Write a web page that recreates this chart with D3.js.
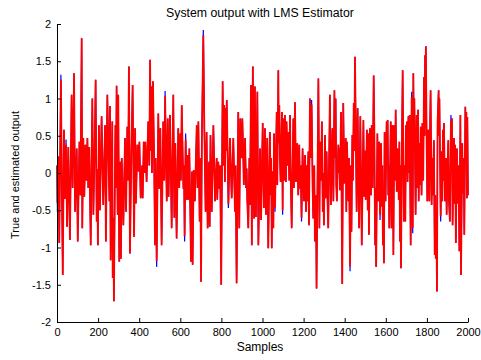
<!DOCTYPE html>
<html>
<head>
<meta charset="utf-8">
<script src="https://cdnjs.cloudflare.com/ajax/libs/d3/7.8.5/d3.min.js"></script>
<style>
  body { margin: 0; background: #fff; }
  text { font-family: "Liberation Sans", Arial, sans-serif; fill: #000; }
</style>
</head>
<body>
<svg id="chart" width="481" height="360"></svg>
<script>
// sample index of each read-off point
const samples = [
  0,2,7,11,19,24,28,34,39,44,
  49,55,63,71,76,83,88,96,101,109,
  114,120,123,128,133,138,143,148,152,157,
  164,172,177,183,188,193,196,199,204,209,
  217,225,234,238,245,255,258,261,269,271,
  274,277,284,287,290,295,298,303,307,311,
  315,323,331,336,342,346,350,355,362,368,
  375,380,384,391,396,401,407,414,417,422,
  427,430,436,444,449,453,456,459,462,467,
  472,477,480,485,493,498,503,509,517,522,
  526,534,539,543,550,558,566,571,576,582,
  590,595,600,603,607,615,618,621,626,631,
  635,639,644,652,657,660,665,671,680,684,
  688,694,697,701,705,712,717,723,728,733,
  740,743,747,753,761,769,777,780,785,790,
  794,799,806,811,814,817,821,824,826,834,
  842,850,858,866,869,874,882,887,892,898,
  902,905,909,915,920,923,926,931,936,939,
  944,948,953,959,963,968,975,980,988,993,
  1001,1007,1012,1017,1023,1028,1036,1039,1042,1045,
  1049,1053,1056,1061,1069,1072,1077,1079,1082,1085,
  1088,1095,1098,1101,1106,1109,1114,1117,1122,1126,
  1130,1134,1137,1142,1150,1153,1158,1163,1169,1174,
  1179,1182,1186,1190,1195,1202,1207,1212,1215,1218,
  1223,1226,1231,1234,1239,1244,1247,1252,1255,1260,
  1263,1272,1277,1280,1285,1289,1293,1296,1299,1304,
  1307,1312,1315,1320,1328,1333,1340,1345,1350,1353,
  1356,1359,1362,1369,1372,1375,1377,1382,1388,1393,
  1398,1405,1408,1411,1418,1421,1426,1430,1433,1437,
  1440,1444,1447,1450,1453,1458,1463,1466,1470,1476,
  1483,1491,1495,1499,1502,1508,1512,1515,1518,1523,
  1528,1531,1536,1541,1544,1548,1550,1553,1559,1564,
  1568,1572,1577,1580,1583,1586,1588,1591,1594,1599,
  1604,1607,1609,1612,1614,1617,1624,1628,1633,1637,
  1641,1645,1648,1653,1658,1663,1666,1669,1671,1674,
  1679,1682,1688,1692,1695,1698,1700,1703,1706,1710,
  1713,1716,1721,1726,1731,1734,1737,1739,1745,1750,
  1753,1757,1760,1764,1767,1770,1774,1778,1782,1786,
  1789,1791,1793,1795,1799,1802,1807,1812,1815,1818,
  1823,1826,1829,1834,1838,1841,1843,1846,1849,1852,
  1857,1859,1861,1867,1872,1875,1878,1880,1883,1888,
  1893,1896,1901,1904,1907,1912,1917,1920,1922,1925,
  1932,1935,1937,1941,1946,1951,1954,1958,1963,1966,
  1972,1975,1979,1982,1987,1990,1992,1995,1997,2000
];

// true system output (blue)
const trueOut = [
  0.10,-0.52,0.22,-0.94,1.32,-0.30,-1.37,0.58,-0.35,0.45,
  -0.72,0.35,-0.90,1.05,-0.20,1.34,-0.52,0.33,-0.92,0.42,
  -0.30,1.81,-0.74,0.47,-0.32,0.38,-0.10,0.47,-0.20,0.35,
  -0.97,1.00,-0.56,0.30,1.25,-0.65,0.05,-0.97,0.64,-0.50,
  0.76,-0.43,0.64,-0.92,1.05,-0.38,0.90,-1.17,0.69,-1.41,
  -0.60,-1.72,0.64,-0.20,1.17,-0.56,1.05,-1.19,0.15,-1.15,
  0.20,-0.70,0.47,-0.52,0.62,-0.10,1.43,-1.08,0.30,1.18,
  -0.86,0.60,-0.41,0.38,0.02,0.42,-0.34,0.10,-0.34,0.42,
  0.00,0.42,-0.12,0.69,0.10,1.52,0.30,1.16,0.00,1.23,
  0.30,-0.97,0.20,-1.26,0.80,-0.21,0.60,-0.97,0.69,-0.10,
  1.10,-0.38,0.73,-0.32,0.78,-0.74,1.05,-0.60,0.40,-0.88,
  0.60,-0.20,0.53,-0.10,0.91,-0.21,0.10,-0.92,0.53,-0.36,
  0.24,-0.36,0.33,-1.19,0.02,-1.23,0.04,-0.38,0.64,-0.20,
  0.69,-0.65,0.20,-1.46,0.51,1.92,0.60,-0.52,0.55,-0.74,
  0.15,-0.72,0.51,-0.52,0.64,-0.38,0.20,-0.36,0.15,-0.21,
  0.10,-1.50,1.23,0.10,0.91,-0.12,0.87,0.30,0.98,-0.47,
  0.47,-0.34,0.47,-0.52,0.10,-1.48,0.82,-0.74,0.73,0.20,
  0.73,0.44,-0.16,0.47,-0.20,0.06,-0.38,-0.74,0.20,-0.43,
  1.18,-0.97,1.43,-0.61,1.16,-0.59,1.09,-0.97,0.33,-0.63,
  0.67,-0.47,0.60,-0.56,0.47,-1.01,0.55,-0.30,0.20,-1.01,
  0.02,-0.74,0.53,-0.52,0.82,-0.16,1.38,0.40,0.91,0.20,
  -0.12,0.82,-0.56,0.73,-0.10,0.78,-0.12,0.69,0.10,0.55,
  -0.10,0.78,0.00,-0.74,0.73,-0.20,0.95,-0.12,0.40,-0.30,
  0.38,-0.21,0.10,-0.65,0.33,-0.38,0.24,-0.52,0.10,-0.38,
  0.29,-0.70,1.00,0.20,0.98,-0.20,-0.61,0.10,-0.92,-0.30,
  -1.55,1.27,-0.74,0.42,-0.10,0.69,-0.52,0.00,-0.70,0.51,
  -0.34,0.29,-0.23,-0.74,1.05,-0.43,0.60,-0.38,1.11,0.20,
  1.00,-0.16,-0.38,0.38,0.00,0.33,-0.23,0.82,-1.49,0.94,
  -0.14,0.47,-0.52,0.42,-0.38,0.20,-1.32,0.10,-0.79,0.51,
  -0.10,0.94,0.30,1.56,0.85,-0.52,0.87,0.10,-0.74,0.76,
  -0.97,0.71,-0.32,0.30,-0.36,0.58,-0.50,0.53,-0.83,0.60,
  -0.30,0.64,-0.20,1.31,0.64,-0.97,-0.20,-1.26,0.53,-0.38,
  0.42,-0.63,0.40,-0.45,0.10,-0.97,-0.30,-1.21,0.55,-0.38,
  0.69,0.10,0.71,-0.30,0.10,-0.74,0.69,-0.74,0.64,-1.10,
  0.64,-0.10,0.85,-0.25,0.33,-0.36,0.42,-0.92,0.10,-1.28,
  0.60,1.38,-0.65,0.10,-0.65,0.64,0.20,0.69,-0.12,0.76,
  0.00,0.78,-0.97,1.09,-0.81,1.34,0.40,1.00,-0.56,0.78,
  -0.20,0.85,-0.38,0.40,-0.16,0.62,-0.30,0.67,-0.10,1.29,
  0.50,1.58,0.90,1.70,0.33,-0.38,0.58,-0.38,0.58,1.11,
  -0.43,0.20,-0.30,0.44,-1.10,-0.30,-1.15,-0.50,-1.59,0.67,
  1.11,0.50,1.00,-0.65,0.29,-0.38,0.58,-0.10,0.67,-0.38,
  0.20,-0.56,0.10,0.44,-0.36,-0.65,0.78,0.30,0.73,-0.70,
  0.47,-0.41,0.38,-0.94,0.33,-0.41,0.10,-1.05,0.78,-1.37,
  0.40,-0.27,0.20,-0.83,0.89,0.20,0.82,-0.34,0.75,-0.30
];

// LMS estimated output (red)
const estOut = [
  0.10,-0.40,0.22,-0.94,1.25,-0.30,-1.37,0.58,-0.35,0.38,
  -0.72,0.35,-0.90,1.05,-0.20,1.34,-0.52,0.33,-0.92,0.42,
  -0.30,1.81,-0.74,0.47,-0.32,0.38,-0.10,0.47,-0.20,0.35,
  -0.97,1.00,-0.56,0.30,1.25,-0.65,0.05,-0.97,0.64,-0.50,
  0.76,-0.43,0.64,-0.92,1.05,-0.38,0.90,-1.17,0.69,-1.41,
  -0.60,-1.72,0.64,-0.20,1.17,-0.56,1.05,-1.19,0.15,-1.15,
  0.20,-0.70,0.47,-0.52,0.62,-0.10,1.43,-1.08,0.30,1.18,
  -0.86,0.60,-0.41,0.38,0.02,0.42,-0.34,0.10,-0.34,0.42,
  0.00,0.42,-0.12,0.69,0.10,1.52,0.30,1.16,0.00,1.23,
  0.30,-0.97,0.20,-1.18,0.80,-0.21,0.60,-0.97,0.69,-0.10,
  1.03,-0.38,0.73,-0.32,0.78,-0.74,1.05,-0.60,0.40,-0.88,
  0.60,-0.20,0.53,-0.10,0.91,-0.21,0.10,-0.85,0.45,-0.36,
  0.24,-0.36,0.33,-1.19,0.02,-1.23,0.04,-0.38,0.64,-0.20,
  0.69,-0.65,0.20,-1.46,0.51,1.85,0.60,-0.52,0.55,-0.74,
  0.15,-0.72,0.51,-0.52,0.64,-0.38,0.20,-0.36,0.15,-0.21,
  0.10,-1.50,1.23,0.10,0.91,-0.12,0.87,0.30,0.98,-0.42,
  0.47,-0.34,0.47,-0.52,0.10,-1.48,0.82,-0.74,0.73,0.20,
  0.73,0.38,-0.16,0.47,-0.20,0.06,-0.38,-0.74,0.20,-0.43,
  1.18,-0.97,1.43,-0.61,1.16,-0.59,1.09,-0.97,0.33,-0.63,
  0.67,-0.47,0.60,-0.56,0.47,-1.01,0.55,-0.30,0.20,-1.01,
  0.02,-0.74,0.53,-0.46,0.82,-0.16,1.38,0.40,0.91,0.20,
  -0.12,0.82,-0.50,0.73,-0.10,0.78,-0.12,0.69,0.10,0.55,
  -0.10,0.78,0.00,-0.74,0.73,-0.20,0.95,-0.12,0.40,-0.30,
  0.38,-0.21,0.10,-0.60,0.33,-0.38,0.24,-0.52,0.10,-0.38,
  0.29,-0.70,1.00,0.20,0.92,-0.20,-0.61,0.10,-0.92,-0.30,
  -1.55,1.27,-0.74,0.42,-0.10,0.69,-0.52,0.00,-0.70,0.51,
  -0.34,0.29,-0.23,-0.74,1.05,-0.43,0.60,-0.38,1.11,0.20,
  1.00,-0.16,-0.38,0.38,0.00,0.33,-0.23,0.82,-1.49,0.94,
  -0.14,0.47,-0.52,0.42,-0.38,0.20,-1.25,0.10,-0.79,0.51,
  -0.10,0.94,0.30,1.56,0.85,-0.52,0.87,0.10,-0.74,0.76,
  -0.97,0.71,-0.32,0.30,-0.36,0.58,-0.50,0.53,-0.83,0.60,
  -0.30,0.64,-0.20,1.31,0.64,-0.97,-0.20,-1.26,0.53,-0.38,
  0.42,-0.56,0.40,-0.45,0.10,-0.97,-0.30,-1.21,0.55,-0.38,
  0.69,0.10,0.71,-0.30,0.10,-0.74,0.69,-0.74,0.64,-1.10,
  0.64,-0.10,0.85,-0.25,0.33,-0.36,0.42,-0.92,0.10,-1.28,
  0.60,1.38,-0.65,0.10,-0.65,0.64,0.20,0.69,-0.12,0.76,
  0.00,0.78,-0.97,1.02,-0.74,1.34,0.40,1.00,-0.56,0.78,
  -0.20,0.85,-0.38,0.40,-0.16,0.62,-0.30,0.67,-0.10,1.29,
  0.50,1.58,0.90,1.70,0.33,-0.38,0.58,-0.38,0.58,1.11,
  -0.43,0.20,-0.30,0.44,-1.10,-0.30,-1.15,-0.50,-1.59,0.67,
  1.11,0.50,1.00,-0.58,0.29,-0.38,0.58,-0.10,0.67,-0.38,
  0.20,-0.56,0.10,0.44,-0.36,-0.65,0.70,0.30,0.73,-0.70,
  0.47,-0.41,0.38,-0.94,0.33,-0.41,0.10,-1.05,0.78,-1.37,
  0.40,-0.27,0.20,-0.83,0.89,0.20,0.82,-0.34,0.75,-0.30
];

const xTicks = [0, 200, 400, 600, 800, 1000, 1200, 1400, 1600, 1800, 2000];
const yTicks = [-2, -1.5, -1, -0.5, 0, 0.5, 1, 1.5, 2];

const margin = {top: 24, right: 13, bottom: 38, left: 57};
const width = 481 - margin.left - margin.right;
const height = 360 - margin.top - margin.bottom;

const svg = d3.select("#chart");
const g = svg.append("g")
  .attr("transform", "translate(" + margin.left + "," + margin.top + ")");

const x = d3.scaleLinear().domain([0, 2000]).range([0, width]);
const y = d3.scaleLinear().domain([-2, 2]).range([height, 0]);

// lines: true output underneath, estimate on top
const line = d3.line().x((d, i) => x(samples[i])).y(d => y(d));

g.append("path")
  .datum(trueOut)
  .attr("fill", "none")
  .attr("stroke", "#0000ff")
  .attr("stroke-width", 1.2)
  .attr("d", line);

g.append("path")
  .datum(estOut)
  .attr("fill", "none")
  .attr("stroke", "#ff0000")
  .attr("stroke-width", 1.8)
  .attr("d", line);

// axes, ticks pointing inward like matlab
const xAxis = g.append("g")
  .attr("transform", "translate(0," + height + ")")
  .call(d3.axisBottom(x).tickValues(xTicks).tickFormat(d3.format("d"))
    .tickSizeInner(-4).tickSizeOuter(0).tickPadding(6));

const yAxis = g.append("g")
  .call(d3.axisLeft(y).tickValues(yTicks).tickFormat(d => String(d))
    .tickSizeInner(-4).tickSizeOuter(0).tickPadding(6));

[xAxis, yAxis].forEach(a => {
  a.selectAll("text").attr("font-size", 11).attr("fill", "#000")
    .style("font-family", "'Liberation Sans', Arial, sans-serif");
  a.selectAll("line,path").attr("stroke", "#000");
});

// title and labels
svg.append("text")
  .attr("x", 260)
  .attr("y", 17)
  .attr("text-anchor", "middle")
  .attr("font-size", 12.3)
  .text("System output with LMS Estimator");

svg.append("text")
  .attr("x", 260)
  .attr("y", 351)
  .attr("text-anchor", "middle")
  .attr("font-size", 12)
  .text("Samples");

svg.append("text")
  .attr("transform", "translate(19,175) rotate(-90)")
  .attr("text-anchor", "middle")
  .attr("font-size", 11)
  .text("True and estimated output");
</script>
</body>
</html>
